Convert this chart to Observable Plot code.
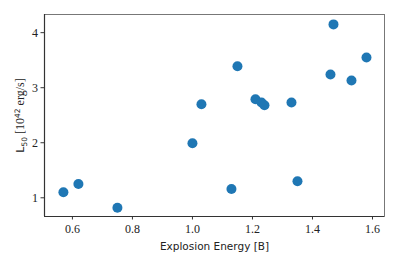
<!DOCTYPE html>
<html><head><meta charset="utf-8">
<script src="https://cdn.jsdelivr.net/npm/d3@7"></script>
<script src="https://cdn.jsdelivr.net/npm/@observablehq/plot@0.6"></script>
<style>body{margin:0;background:#fff}</style>
</head><body><div id="chart"></div>
<script>
const energy = [0.57, 0.62, 0.75, 1.00, 1.03, 1.13, 1.15, 1.21, 1.23, 1.24, 1.33, 1.35, 1.46, 1.47, 1.53, 1.58];
const l50    = [1.10, 1.25, 0.82, 1.99, 2.70, 1.16, 3.39, 2.79, 2.73, 2.68, 2.73, 1.30, 3.24, 4.15, 3.13, 3.55];
const xTicks = [0.6, 0.8, 1.0, 1.2, 1.4, 1.6];
const yTicks = [1, 2, 3, 4];
const data = energy.map((e, i) => ({e, l: l50[i]}));

const chart = Plot.plot({
  width: 399, height: 266,
  marginLeft: 44, marginRight: 15, marginTop: 14, marginBottom: 50,
  style: {fontFamily: "'Liberation Serif', serif", fontSize: "12px", color: "#222", background: "#fff"},
  x: {domain: [0.507, 1.64]},
  y: {domain: [0.66, 4.33]},
  marks: [
    Plot.frame({stroke: "#777", strokeWidth: 1}),
    Plot.axisX({ticks: xTicks, tickFormat: d => d.toFixed(1), tickSize: 3.5, tickPadding: 4, label: null, stroke: "#333"}),
    Plot.axisY({ticks: yTicks, tickFormat: d => String(d), tickSize: 3.5, tickPadding: 3, label: null, stroke: "#333"}),
    Plot.ruleY([0.66], {stroke: "#333", strokeWidth: 1.2}),
    Plot.ruleX([0.507], {stroke: "#333", strokeWidth: 1.2}),
    Plot.dot(data, {x: "e", y: "l", r: 5, fill: "#1f77b4", stroke: "none"}),
    Plot.text(["Explosion Energy [B]"], {frameAnchor: "bottom", dy: 33, fontFamily: "'DejaVu Sans', sans-serif", fontSize: 10.5, fill: "#222"}),
    Plot.text(["L50 [1042 erg/s]"], {frameAnchor: "left", dx: -24, rotate: -90, textAnchor: "middle", fontFamily: "'DejaVu Sans', sans-serif", fontSize: 11, fill: "#222", className: "ylab"})
  ]
});
document.getElementById("chart").appendChild(chart);
// rich y label with subscript / superscript
const t = chart.querySelector(".ylab text");
if (t) {
  t.textContent = "";
  const parts = [["L", 0, null], ["50", 3, "sub"], [" [10", -3, null], ["42", -4, "sup"], [" erg/s]", 4, null]];
  for (const [s, shift, kind] of parts) {
    const ts = document.createElementNS("http://www.w3.org/2000/svg", "tspan");
    ts.textContent = s;
    if (kind) ts.setAttribute("font-size", "7.5");
    if (kind === null && s !== "L") ts.setAttribute("font-family", "'Liberation Serif', serif");
    if (kind === null && s !== "L") ts.setAttribute("font-size", "12");
    ts.setAttribute("dy", shift);
    t.appendChild(ts);
  }
}
</script></body></html>
